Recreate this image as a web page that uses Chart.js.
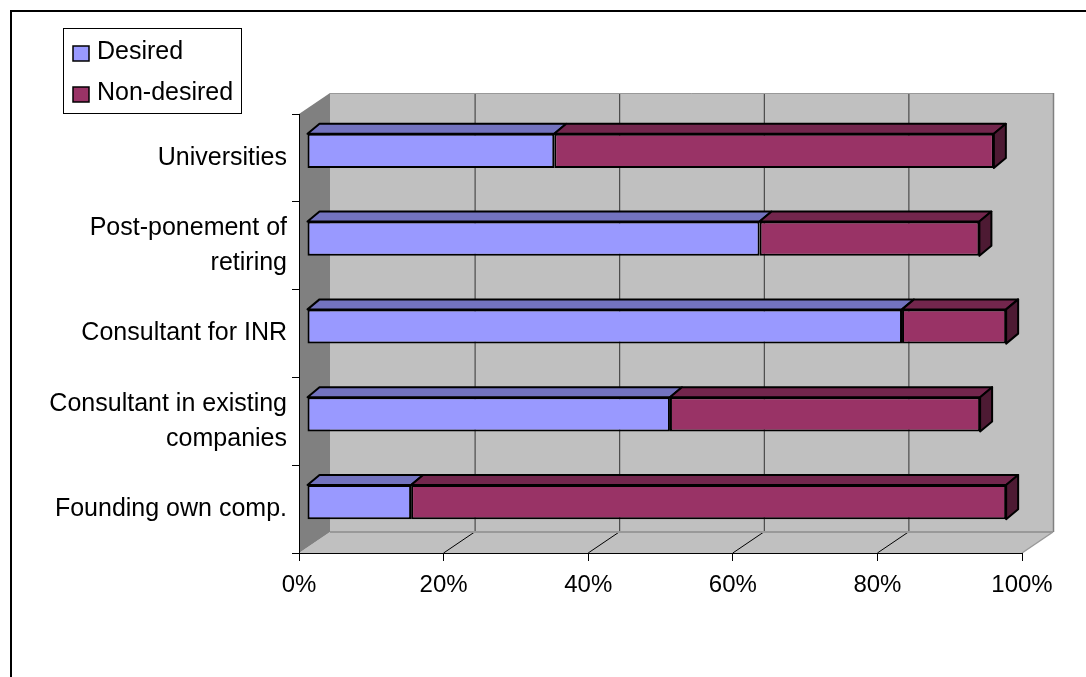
<!DOCTYPE html>
<html>
<head>
<meta charset="utf-8">
<script src="https://cdn.jsdelivr.net/npm/chart.js@4.4.0/dist/chart.umd.min.js"></script>
<style>
  html, body { margin: 0; padding: 0; background: #fff; }
  canvas { display: block; }
</style>
</head>
<body>
<canvas id="careerChart" width="1086" height="677"></canvas>
<script>
const categories = ['Universities', ['Post-ponement of', 'retiring'], 'Consultant for INR', ['Consultant in existing', 'companies'], 'Founding own comp.'];
const desired = [34.2, 62.6, 82.3, 50.2, 14.4];
const nonDesired = [60.8, 30.4, 14.4, 42.9, 82.3];
const xTicks = [0, 20, 40, 60, 80, 100];

const FONT = '"Liberation Sans", Arial, sans-serif';

function poly(ctx, pts, fill, stroke, lw) {
  ctx.beginPath();
  ctx.moveTo(pts[0][0], pts[0][1]);
  for (let i = 1; i < pts.length; i++) ctx.lineTo(pts[i][0], pts[i][1]);
  ctx.closePath();
  if (fill) { ctx.fillStyle = fill; ctx.fill(); }
  if (stroke) { ctx.strokeStyle = stroke; ctx.lineWidth = lw || 1; ctx.stroke(); }
}

function line(ctx, x1, y1, x2, y2, color, lw) {
  ctx.beginPath();
  ctx.moveTo(x1, y1);
  ctx.lineTo(x2, y2);
  ctx.strokeStyle = color;
  ctx.lineWidth = lw || 1;
  ctx.stroke();
}

// back wall, floor and side wall of the 3d box
const walls = {
  id: 'walls',
  beforeDraw(chart) {
    const {ctx, chartArea: a} = chart;
    const x = chart.scales.x;
    const dx = 31, dy = -21;
    ctx.save();
    // outer frame
    ctx.strokeStyle = '#000';
    ctx.lineWidth = 2;
    ctx.beginPath();
    ctx.moveTo(11, 700);
    ctx.lineTo(11, 11);
    ctx.lineTo(1100, 11);
    ctx.stroke();

    ctx.fillStyle = '#c0c0c0';
    ctx.fillRect(a.left + dx, a.top + dy, a.right - a.left, a.bottom - a.top);
    poly(ctx, [[a.left, a.bottom], [a.right, a.bottom], [a.right + dx, a.bottom + dy], [a.left + dx, a.bottom + dy]], '#c0c0c0');
    poly(ctx, [[a.left, a.top], [a.left + dx, a.top + dy], [a.left + dx, a.bottom + dy], [a.left, a.bottom]], '#808080');

    xTicks.forEach(v => {
      const px = x.getPixelForValue(v);
      if (v > 0 && v < 100) {
        line(ctx, px + dx + 0.5, a.top + dy, px + dx + 0.5, a.bottom + dy, '#333');
        line(ctx, px, a.bottom, px + dx, a.bottom + dy, '#000');
      }
    });
    // edges
    line(ctx, a.left + dx, a.top + dy + 0.5, a.right + dx, a.top + dy + 0.5, '#999');
    line(ctx, a.right + dx + 0.5, a.top + dy, a.right + dx + 0.5, a.bottom + dy, '#808080', 1.5);
    line(ctx, a.left + dx, a.bottom + dy, a.right + dx, a.bottom + dy, '#999', 2);
    line(ctx, a.right, a.bottom, a.right + dx, a.bottom + dy, '#999', 1.5);
    ctx.restore();
  }
};

// top and end faces of the bars, front faces come from chart.js
const bars3d = {
  id: 'bars3d',
  beforeDatasetsDraw(chart) {
    const ctx = chart.ctx;
    ctx.save();
    ctx.translate(8, -7);
    ctx.lineJoin = 'round';
    const metas = chart.getSortedVisibleDatasetMetas();
    metas.forEach((meta, di) => {
      const ds = chart.data.datasets[meta.index];
      meta.data.forEach(bar => {
        const {x, y, base, height} = bar.getProps(['x', 'y', 'base', 'height'], true);
        const top = y - height / 2, bot = y + height / 2;
        poly(ctx, [[base, top], [x, top], [x + 12, top - 10], [base + 12, top - 10]], ds.topColor, '#000', 2);
        if (di === metas.length - 1) {
          poly(ctx, [[x, top], [x + 12, top - 10], [x + 12, bot - 10], [x, bot]], ds.sideColor, '#000', 2);
        }
      });
    });
  },
  afterDatasetsDraw(chart) {
    chart.ctx.restore();
  }
};

const legendBox = {
  id: 'legendBox',
  afterDraw(chart) {
    const ctx = chart.ctx;
    ctx.save();
    ctx.fillStyle = '#fff';
    ctx.fillRect(63.5, 28.5, 178, 85);
    ctx.strokeStyle = '#000';
    ctx.lineWidth = 1;
    ctx.strokeRect(63.5, 28.5, 178, 85);
    ctx.font = '25px ' + FONT;
    ctx.textBaseline = 'alphabetic';
    chart.data.datasets.forEach((ds, i) => {
      const y = 46 + i * 41;
      ctx.fillStyle = ds.backgroundColor;
      ctx.fillRect(73, y, 16, 15);
      ctx.lineWidth = 1.5;
      ctx.strokeRect(73, y, 16, 15);
      ctx.fillStyle = '#000';
      ctx.fillText(ds.label, 97, y + 12.5);
    });
    ctx.restore();
  }
};

new Chart(document.getElementById('careerChart'), {
  type: 'bar',
  data: {
    labels: categories,
    datasets: [
      {
        label: 'Desired',
        data: desired,
        backgroundColor: '#9999ff',
        topColor: '#7373bf',
        sideColor: '#4d4d80',
        borderColor: '#000',
        borderWidth: 2,
        borderSkipped: false
      },
      {
        label: 'Non-desired',
        data: nonDesired,
        backgroundColor: '#993366',
        topColor: '#73264d',
        sideColor: '#4d1a33',
        borderColor: '#000',
        borderWidth: 2,
        borderSkipped: false
      }
    ]
  },
  options: {
    indexAxis: 'y',
    responsive: false,
    animation: false,
    barPercentage: 0.39,
    categoryPercentage: 1,
    layout: { padding: { left: 12, top: 114, right: 64, bottom: 0 } },
    plugins: { legend: { display: false }, tooltip: { enabled: false } },
    scales: {
      x: {
        stacked: true,
        min: 0,
        max: 100,
        afterBuildTicks(s) { s.ticks = xTicks.map(v => ({value: v})); },
        ticks: { callback: v => v + '%', color: '#000', font: { size: 24, family: FONT }, padding: 10, maxRotation: 0, autoSkip: false },
        grid: { drawOnChartArea: false, drawTicks: true, tickLength: 8, color: '#000' },
        border: { color: '#000', width: 1 },
        afterFit(s) { s.height = 124; }
      },
      y: {
        stacked: true,
        ticks: { color: '#000', font: { size: 25, family: FONT, lineHeight: 1.4 }, padding: 5 },
        grid: { drawOnChartArea: false, tickLength: 7, color: '#000', offset: true },
        border: { color: '#000', width: 1 },
        afterFit(s) { s.width = 287; }
      }
    }
  },
  plugins: [walls, bars3d, legendBox]
});
</script>
</body>
</html>
